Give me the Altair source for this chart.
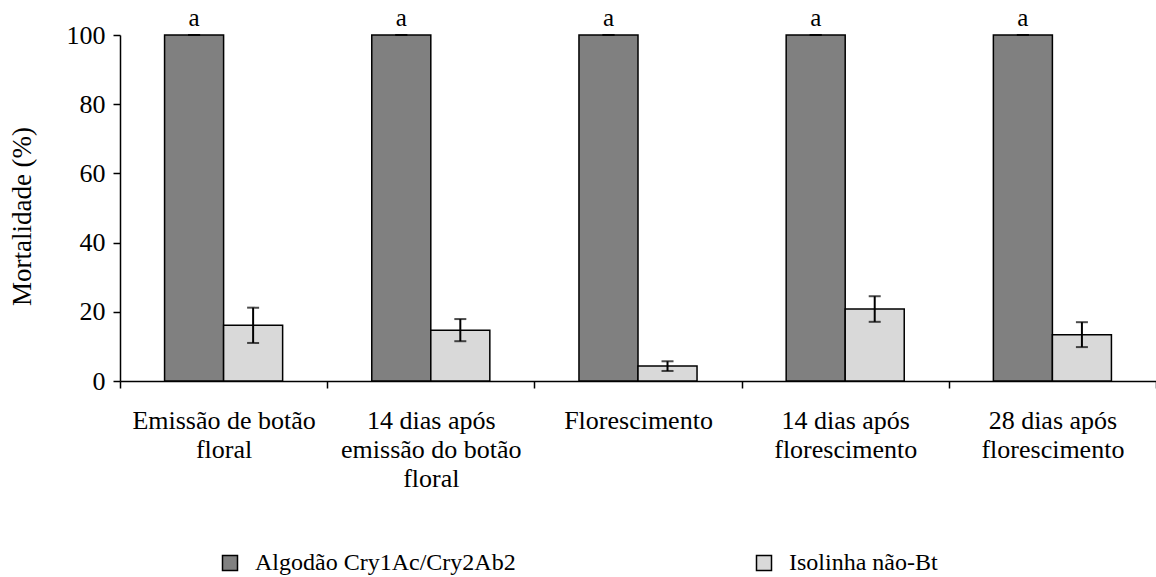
import altair as alt
import pandas as pd

# Growth stages (use "|" to break axis labels over several lines)
stages = [
    "Emissão de botão|floral",
    "14 dias após|emissão do botão|floral",
    "Florescimento",
    "14 dias após|florescimento",
    "28 dias após|florescimento",
]
series = ["Algodão Cry1Ac/Cry2Ab2", "Isolinha não-Bt"]

# Mortality (%) and standard error per stage
bt_mean = [100, 100, 100, 100, 100]
bt_err = [0, 0, 0, 0, 0]
iso_mean = [16.1, 14.7, 4.3, 20.8, 13.4]
iso_err = [5.1, 3.2, 1.4, 3.7, 3.6]
letters = ["a", "a", "a", "a", "a"]

rows = []
for i, st in enumerate(stages):
    rows.append({"stage": st, "series": series[0], "value": bt_mean[i],
                 "lo": bt_mean[i] - bt_err[i], "hi": bt_mean[i] + bt_err[i],
                 "letter": letters[i]})
    rows.append({"stage": st, "series": series[1], "value": iso_mean[i],
                 "lo": iso_mean[i] - iso_err[i], "hi": iso_mean[i] + iso_err[i],
                 "letter": ""})
df = pd.DataFrame(rows)

FONT = "Liberation Serif"

x_enc = alt.X(
    "stage:N", sort=stages, title=None,
    scale=alt.Scale(paddingInner=0, paddingOuter=0),
    axis=alt.Axis(
        labelExpr="split(datum.label, '|')", labelAngle=0,
        labelFontSize=26, labelLineHeight=29, labelPadding=19,
        labelLimit=300, tickBand="extent",
    ),
)
xo_enc = alt.XOffset("series:N", sort=series,
                     scale=alt.Scale(paddingOuter=0.755, paddingInner=0))
y_scale = alt.Scale(domain=[0, 100])

base = alt.Chart(df)

bars = base.mark_bar(stroke="black", strokeWidth=1.5).encode(
    x=x_enc,
    xOffset=xo_enc,
    y=alt.Y("value:Q", scale=y_scale, title="Mortalidade (%)",
            axis=alt.Axis(values=[0, 20, 40, 60, 80, 100],
                          labelFontSize=26, labelPadding=8,
                          titleFontSize=27, titlePadding=30, titleY=181)),
    color=alt.Color("series:N", sort=series,
                    scale=alt.Scale(domain=series, range=["#808080", "#d9d9d9"]),
                    legend=alt.Legend(
                        title=None, orient="none", direction="horizontal",
                        legendX=98, legendY=516, columns=2, columnPadding=236,
                        symbolType="square", symbolSize=225,
                        symbolStrokeColor="black", symbolStrokeWidth=1.5,
                        labelOffset=13, labelLimit=400)),
)

err = base.mark_rule(color="black", strokeWidth=2).encode(
    x=alt.X("stage:N", sort=stages),
    xOffset=xo_enc,
    y=alt.Y("lo:Q", scale=y_scale),
    y2="hi:Q",
)
cap_hi = base.mark_tick(color="black", thickness=2, size=12, orient="horizontal").encode(
    x=alt.X("stage:N", sort=stages), xOffset=xo_enc, y=alt.Y("hi:Q", scale=y_scale))
cap_lo = base.mark_tick(color="black", thickness=2, size=12, orient="horizontal").encode(
    x=alt.X("stage:N", sort=stages), xOffset=xo_enc, y=alt.Y("lo:Q", scale=y_scale))

labels = base.mark_text(font=FONT, fontSize=25, color="black",
                        baseline="alphabetic", dy=-9).encode(
    x=alt.X("stage:N", sort=stages), xOffset=xo_enc,
    y=alt.Y("hi:Q", scale=y_scale), text="letter:N")

chart = (
    alt.layer(bars, err, cap_hi, cap_lo, labels)
    .properties(
        width=1036, height=346,
        autosize=alt.AutoSizeParams(type="none"),
        padding={"left": 120, "top": 35, "right": 0, "bottom": 196},
    )
    .configure(background="white", font=FONT)
    .configure_view(stroke=None)
    .configure_axis(
        grid=False, labelFont=FONT, labelColor="black",
        titleFont=FONT, titleColor="black", titleFontWeight="normal",
        tickSize=7, tickColor="black", tickWidth=1.5,
        domainColor="black", domainWidth=1.5,
    )
    .configure_legend(labelFont=FONT, labelFontSize=24, labelColor="black")
)

chart.save("out.html", embed_options={"renderer": "svg", "actions": False})
